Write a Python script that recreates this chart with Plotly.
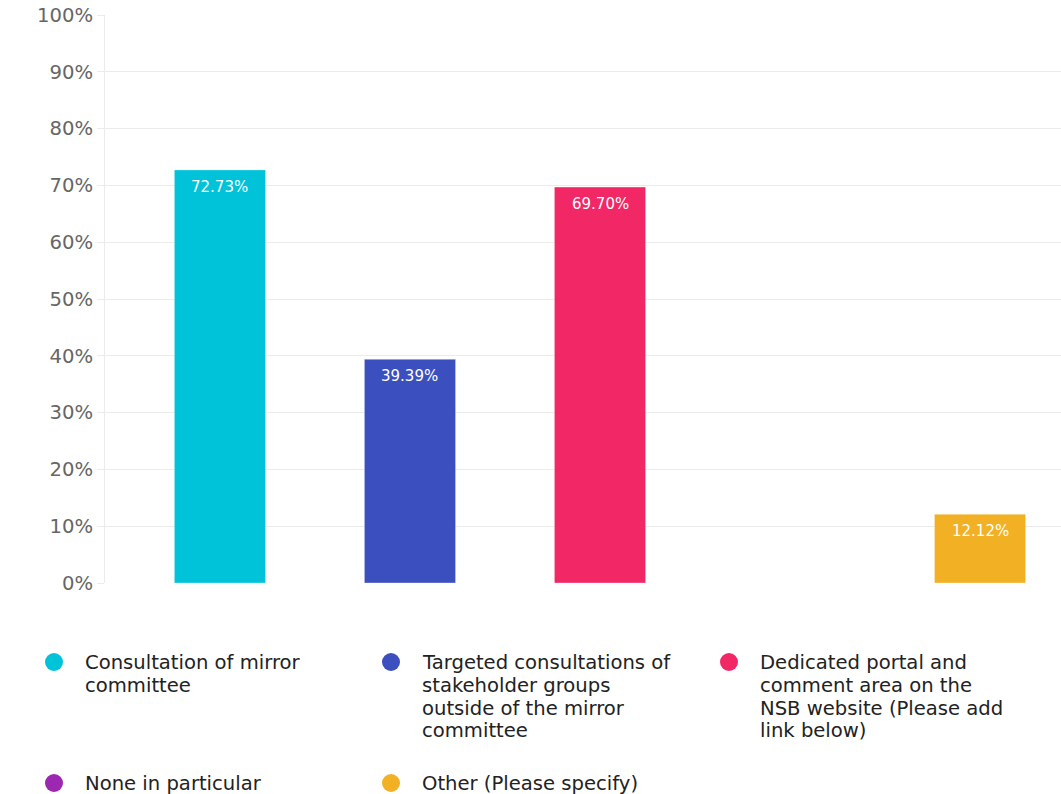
import plotly.graph_objects as go

# Survey answers and share of respondents (%)
categories = [
    "Consultation of mirror committee",
    "Targeted consultations of stakeholder groups outside of the mirror committee",
    "Dedicated portal and comment area on the NSB website (Please add link below)",
    "None in particular",
    "Other (Please specify)",
]
legend_labels = [
    "Consultation of mirror<br>committee",
    "Targeted consultations of<br>stakeholder groups<br>outside of the mirror<br>committee",
    "Dedicated portal and<br>comment area on the<br>NSB website (Please add<br>link below)",
    "None in particular",
    "Other (Please specify)",
]
shares = [72.73, 39.39, 69.70, 0.0, 12.12]
colors = ["#00c2d9", "#3c4fbe", "#f12766", "#9c27b0", "#f2b124"]
y_ticks = [0, 10, 20, 30, 40, 50, 60, 70, 80, 90, 100]

W, H = 1061, 794
PL, PR, PT, PB = 105, 0, 15, 211  # plot margins in px
plot_w = W - PL - PR
plot_h = H - PT - PB


def px_x(x):
    return (x - PL) / plot_w


def px_y(y):
    return (H - PB - y) / plot_h


FONT = "DejaVu Sans"

fig = go.Figure()
fig.add_trace(go.Bar(
    x=list(range(len(categories))),
    y=shares,
    marker=dict(color=colors, line=dict(color="rgba(255,255,255,0.35)", width=1)),
    width=0.48,
    hovertext=categories,
    showlegend=False,
))

# value labels inside the top of each bar
for i, v in enumerate(shares):
    if v <= 0:
        continue
    fig.add_annotation(
        x=i, y=v, xref="x", yref="y",
        text=f"{v:.2f}%", showarrow=False,
        yanchor="middle", yshift=-17,
        font=dict(family=FONT, size=15, color="white"),
    )

# legend: colored dots with wrapped labels
legend_pos = [(54, 662), (391, 662), (729, 662), (54, 783), (391, 783)]
for (cx, cy), label, col in zip(legend_pos, legend_labels, colors):
    fig.add_shape(
        type="circle", xref="paper", yref="paper",
        xsizemode="pixel", ysizemode="pixel",
        xanchor=px_x(cx), yanchor=px_y(cy),
        x0=-9, x1=9, y0=-9, y1=9,
        fillcolor=col, line=dict(width=0),
    )
    for k, line in enumerate(label.split("<br>")):
        fig.add_annotation(
            x=px_x(cx + 29), y=px_y(cy + 23 * k),
            xref="paper", yref="paper",
            text=line, showarrow=False,
            xanchor="left", yanchor="middle",
            font=dict(family=FONT, size=19.6, color="#222222"),
        )

fig.update_layout(
    width=W, height=H,
    margin=dict(l=PL, r=PR, t=PT, b=PB),
    paper_bgcolor="white",
    plot_bgcolor="white",
    bargap=0.52,
    xaxis=dict(
        range=[-0.605, 4.426],
        showticklabels=False, showgrid=False, zeroline=False,
        showline=False, ticks="",
    ),
    yaxis=dict(
        range=[0, 100],
        tickvals=y_ticks,
        ticktext=[f"{t}%" for t in y_ticks],
        tickfont=dict(family=FONT, size=19.6, color="#666666"),
        showgrid=True, gridcolor="#ebebeb", gridwidth=1,
        zeroline=False,
        showline=True, linecolor="#ebebeb", linewidth=1,
        ticks="outside", ticklen=7, tickcolor="#ebebeb",
    ),
)

fig.write_html("out.html")
